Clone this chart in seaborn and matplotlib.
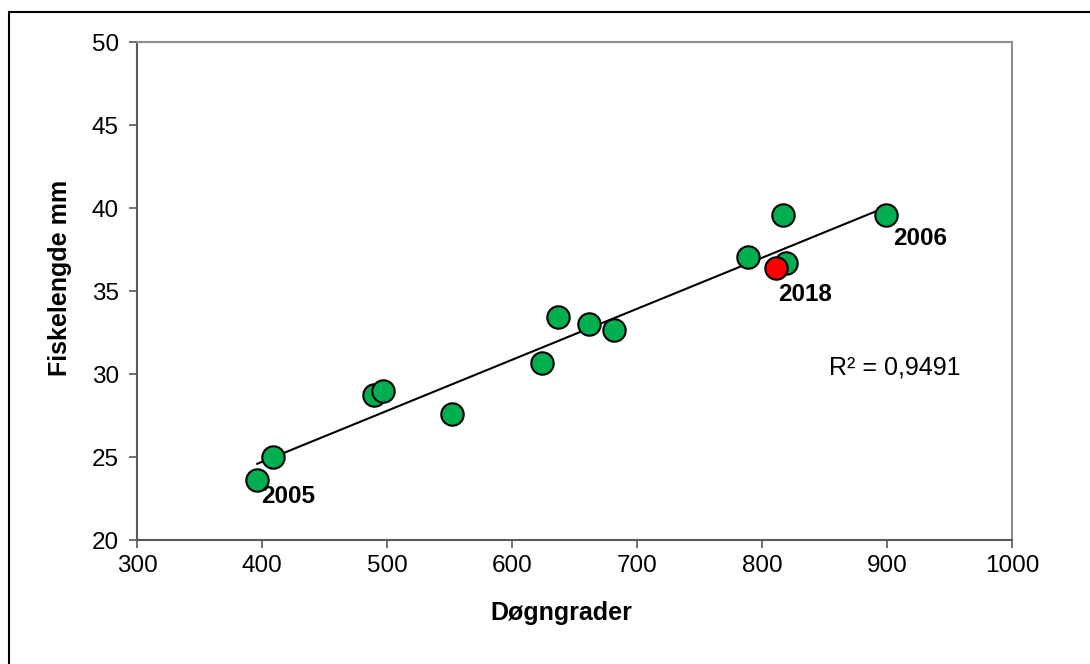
import numpy as np
import seaborn as sns
import matplotlib.pyplot as plt
from matplotlib.lines import Line2D

sns.set_theme(style="white")
plt.rcParams["font.family"] = ["Liberation Sans", "DejaVu Sans"]
plt.rcParams["text.color"] = "black"
plt.rcParams["axes.labelcolor"] = "black"
plt.rcParams["xtick.color"] = "black"
plt.rcParams["ytick.color"] = "black"

# degree-days vs fish length, one point per year
years = [2005, 2004, 2007, 2008, 2009, 2010, 2011, 2012, 2013, 2014, 2015, 2016, 2006]
degree_days = [396, 409, 490, 497, 552, 624, 637, 662, 682, 789, 817, 819, 899]
fish_length = [23.6, 25.0, 28.75, 28.95, 27.6, 30.65, 33.45, 33.0, 32.65, 37.05, 39.6, 36.7, 39.6]

year_2018 = 2018
dd_2018 = 811
len_2018 = 36.4

fig = plt.figure(figsize=(10.9, 6.64), dpi=100)
ax = fig.add_axes([0.1257, 0.1867, 0.8027, 0.75])

all_x = np.array(degree_days + [dd_2018])
all_y = np.array(fish_length + [len_2018])

# linear trend line across all years, Excel style
sns.regplot(x=all_x, y=all_y, ax=ax, ci=None, scatter=False, truncate=True,
            line_kws=dict(color="black", linewidth=1.5, zorder=2))

sns.scatterplot(x=degree_days, y=fish_length, ax=ax, s=260, color="#00B050",
                edgecolor="black", linewidth=1.5, zorder=3)
sns.scatterplot(x=[dd_2018], y=[len_2018], ax=ax, s=260, color="#FF0000",
                edgecolor="black", linewidth=1.5, zorder=4)

ax.set_xlim(300, 1000)
ax.set_ylim(20, 50)
ax.set_xticks(range(300, 1001, 100))
ax.set_yticks(range(20, 51, 5))
ax.tick_params(axis="both", labelsize=17.5, direction="out", length=6,
               width=1.2, color="#595959", left=True, bottom=True)
ax.tick_params(axis="x", pad=5)
ax.tick_params(axis="y", pad=7)
for side in ax.spines.values():
    side.set_color("#8c8c8c")
    side.set_linewidth(1.5)
ax.spines["left"].set_color("#595959")
ax.spines["bottom"].set_color("#595959")

ax.set_xlabel("Døgngrader", fontsize=18, fontweight="bold")
ax.set_ylabel("Fiskelengde mm", fontsize=18, fontweight="bold")
ax.xaxis.set_label_coords(0.4846, -0.122)
ax.yaxis.set_label_coords(-0.0745, 0.526)

# year labels next to selected points
label_offsets = {
    years[0]: ((degree_days[0], fish_length[0]), (3, -12)),
    years[-1]: ((degree_days[-1], fish_length[-1]), (5, -17)),
    year_2018: ((dd_2018, len_2018), (2, -19)),
}
for yr, (xy, off) in label_offsets.items():
    ax.annotate(str(yr), xy=xy, xytext=off, textcoords="offset points",
                fontsize=17.5, fontweight="bold", ha="left", va="center")

ax.text(906, 30.4, "R² = 0,9491", fontsize=18, ha="center", va="center")

# outer chart frame (top and left edges visible)
fig.add_artist(Line2D([9 / 1090, 1], [1 - 12 / 664, 1 - 12 / 664],
                      transform=fig.transFigure, color="black", linewidth=1.5))
fig.add_artist(Line2D([9 / 1090, 9 / 1090], [0, 1 - 12 / 664],
                      transform=fig.transFigure, color="black", linewidth=1.5))

plt.savefig("out.png", dpi=100)
